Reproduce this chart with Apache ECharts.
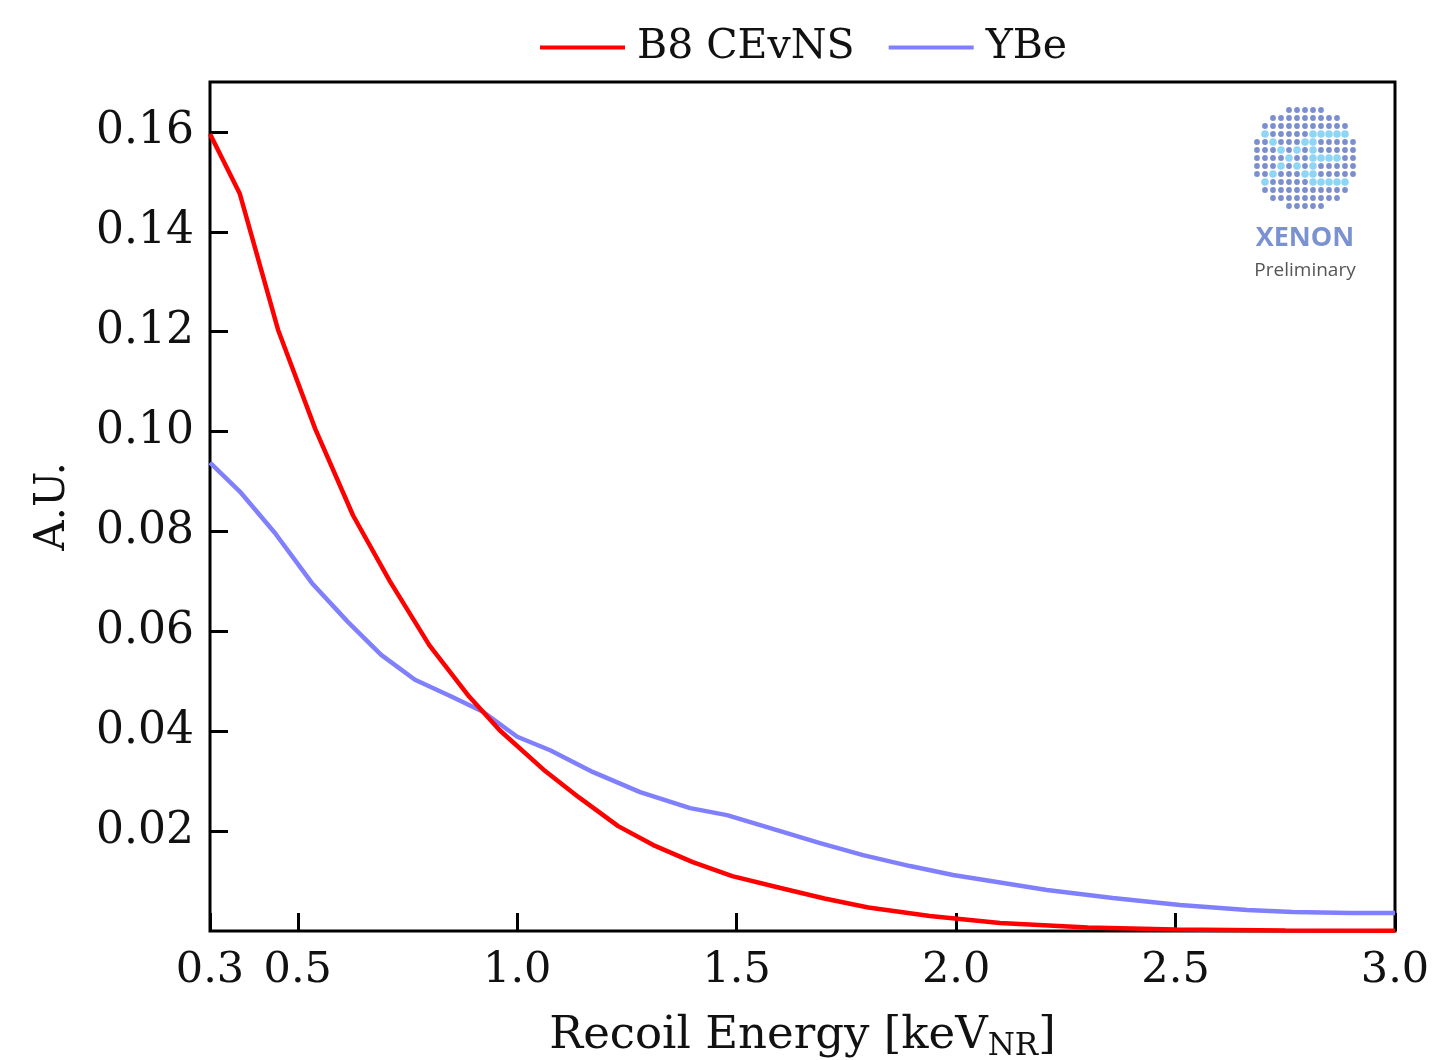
<!DOCTYPE html>
<html>
<head>
<meta charset="utf-8">
<script src="https://cdn.jsdelivr.net/npm/echarts@6/dist/echarts.min.js"></script>
<style>html,body{margin:0;padding:0;background:#fff}#c{width:1435px;height:1060px}</style>
</head>
<body>
<div id="c"></div>
<script>
// ---- data ----
const seriesNames = ['B8 CEvNS', 'YBe'];
const b8Energy = [0.30,0.368,0.455,0.54,0.626,0.71,0.80,0.89,0.96,1.06,1.14,1.23,1.31,1.40,1.49,1.60,1.70,1.80,1.94,2.10,2.30,2.50,2.75,3.00];
const b8Values = [0.1596,0.1476,0.1204,0.1005,0.0832,0.0700,0.0572,0.0470,0.0402,0.0323,0.0268,0.0210,0.0172,0.0138,0.0110,0.0086,0.0065,0.0047,0.0030,0.0016,0.0007,0.0003,0.0001,0.00005];
const ybeEnergy = [0.30,0.368,0.448,0.532,0.614,0.69,0.767,0.851,0.922,1.0,1.075,1.173,1.28,1.394,1.478,1.569,1.69,1.788,1.895,1.993,2.093,2.207,2.357,2.51,2.663,2.767,2.90,3.00];
const ybeValues = [0.0938,0.0880,0.0797,0.0697,0.0619,0.0553,0.0503,0.0469,0.0439,0.0389,0.0362,0.0318,0.0278,0.0246,0.0232,0.0208,0.0176,0.0152,0.0130,0.0112,0.0098,0.0082,0.0066,0.0052,0.0042,0.0038,0.0036,0.0036];
const xTicks = [0.3,0.5,1.0,1.5,2.0,2.5,3.0];
const yTicks = [0.02,0.04,0.06,0.08,0.10,0.12,0.14,0.16];

const FONT = 'DejaVu Serif';
const chart = echarts.init(document.getElementById('c'), null, {renderer:'canvas'});

// logo (decoration)
const logo = [];
const cx = 1305, cy = 158, sp = 8;
const light = new Set();
[[3,1],[4,2],[5,3],[6,4],[7,3],[8,2],[9,1],[4,6],[5,5],[7,5],[8,6],
 [3,7],[3,8],[3,9],[3,10],[3,11],[4,7],[5,7],[6,7],[7,7],[8,7],[9,7],
 [6,8],[6,9],[6,10],[9,8],[9,9],[9,10],[9,11]].forEach(p=>light.add(p[0]+','+p[1]));
for (let r=0;r<13;r++) for (let c=0;c<13;c++){
  if ((r-6)*(r-6)+(c-6)*(c-6) > 42.25) continue;
  const isL = light.has(r+','+c);
  logo.push({type:'circle', shape:{cx:cx+(c-6)*sp, cy:cy+(r-6)*sp, r:isL?3.8:2.9},
    style:{fill:isL?'#8fd6f6':'#7b8fd0'}, silent:true, z:1});
}
logo.push({type:'text', style:{text:'XENON', x:1305, y:238, align:'center', verticalAlign:'middle',
  font:'bold 27px "Open Sans"', fill:'#7b92d2'}});
logo.push({type:'text', style:{text:'Preliminary', x:1305, y:271, align:'center', verticalAlign:'middle',
  font:'19px "Open Sans"', fill:'#555555'}});

chart.setOption({
  animation:false,
  backgroundColor:'#ffffff',
  legend:{
    top:22, left:535, itemWidth:85, itemHeight:4, itemGap:34, icon:'rect',
    textStyle:{fontFamily:FONT, fontSize:41, color:'#111', padding:[0,0,0,7]},
    data:seriesNames
  },
  grid:{left:210, right:40, top:82, bottom:129, outerBoundsMode:'none', containLabel:false,
    show:true, borderColor:'#000', borderWidth:3, backgroundColor:'transparent'},
  xAxis:{
    type:'value', min:0.3, max:3.0,
    name:'{a|Recoil Energy [keV}{s|NR}{a|]}', nameLocation:'middle', nameGap:80,
    nameTextStyle:{rich:{a:{fontFamily:FONT, fontSize:45, color:'#111'}, s:{fontFamily:FONT, fontSize:31, color:'#111', padding:[20,0,0,0]}}},
    axisLine:{show:false},
    splitLine:{show:false},
    axisTick:{show:true, inside:true, length:18, lineStyle:{color:'#000', width:3}, customValues:xTicks},
    axisLabel:{fontFamily:FONT, fontSize:43, color:'#111', margin:18, customValues:xTicks, formatter:v=>v.toFixed(1)}
  },
  yAxis:{
    type:'value', min:0, max:0.17,
    name:'A.U.', nameLocation:'middle', nameGap:136, nameRotate:90,
    nameTextStyle:{fontFamily:FONT, fontSize:42, color:'#111'},
    axisLine:{show:false},
    splitLine:{show:false},
    axisTick:{show:true, inside:true, length:18, lineStyle:{color:'#000', width:3}, customValues:yTicks},
    axisLabel:{fontFamily:FONT, fontSize:44, color:'#111', margin:16, customValues:yTicks, formatter:v=>v.toFixed(2)}
  },
  series:[
    {name:seriesNames[0], type:'line', showSymbol:false, symbol:'none', clip:true,
     lineStyle:{color:'#ff0000', width:4.5}, itemStyle:{color:'#ff0000'},
     data:b8Energy.map((e,i)=>[e,b8Values[i]]), z:3},
    {name:seriesNames[1], type:'line', showSymbol:false, symbol:'none', clip:true,
     lineStyle:{color:'#8080ff', width:4.5}, itemStyle:{color:'#8080ff'},
     data:ybeEnergy.map((e,i)=>[e,ybeValues[i]]), z:2}
  ],
  graphic:logo
});
</script>
</body>
</html>
